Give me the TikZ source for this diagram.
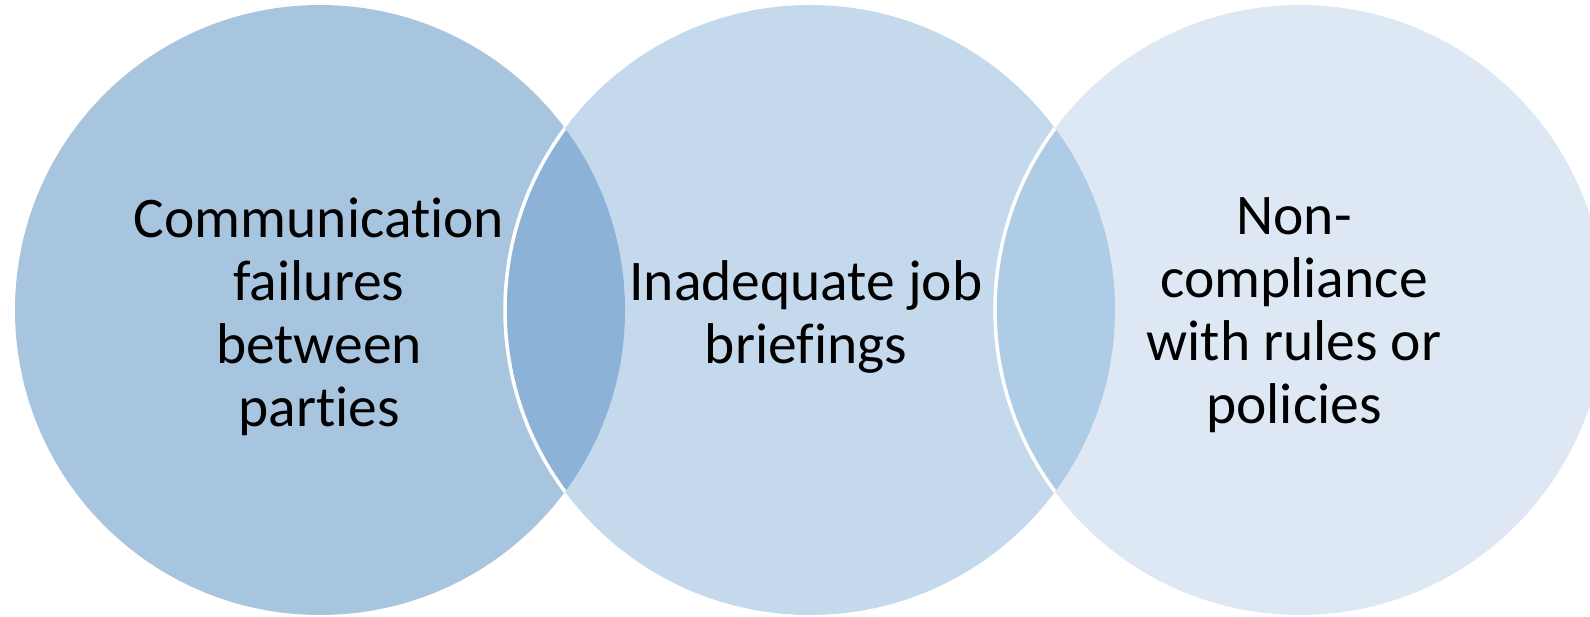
\documentclass[tikz,border=0pt]{standalone}
\usepackage{fontspec}
\setmainfont{Carlito}[Ligatures={NoCommon}]
\definecolor{cA}{HTML}{A8C5E0}
\definecolor{cB}{HTML}{C5D9EC}
\definecolor{cC}{HTML}{DDE8F4}
\definecolor{lAB}{HTML}{8DB2D7}
\definecolor{lBC}{HTML}{AFCCE6}
\tikzset{
  lbl/.style={align=center, inner sep=0pt, text=black, font=\fontsize{57.5}{63}\selectfont},
  sep/.style={draw=white, line width=3.5pt}
}
\begin{document}
\begin{tikzpicture}[x=1pt,y=1pt]
\useasboundingbox (0,0) rectangle (1590,616);
\clip (0,0) rectangle (1590,616);
\coordinate (L) at (320,306);
\coordinate (M) at (810,306);
\coordinate (R) at (1300,306);
\fill[cA] (L) circle (305pt);
\fill[cB] (M) circle (305pt);
\fill[cC] (R) circle (305pt);
\begin{scope}
  \clip (L) circle (305pt);
  \fill[lAB] (M) circle (305pt);
  \draw[sep] (M) circle (305pt);
\end{scope}
\begin{scope}
  \clip (M) circle (305pt);
  \fill[lBC] (R) circle (305pt);
  \draw[sep] (R) circle (305pt);
\end{scope}
\node[lbl] (tA) at (319,299.5) {Communication\\failures\\between\\parties};
\node[lbl] (tB) at (806,299.5) {Inadequate job\\briefings};
\node[lbl] (tC) at (1294,300.5) {Non-\\compliance\\with rules or\\policies};
\end{tikzpicture}
\end{document}
